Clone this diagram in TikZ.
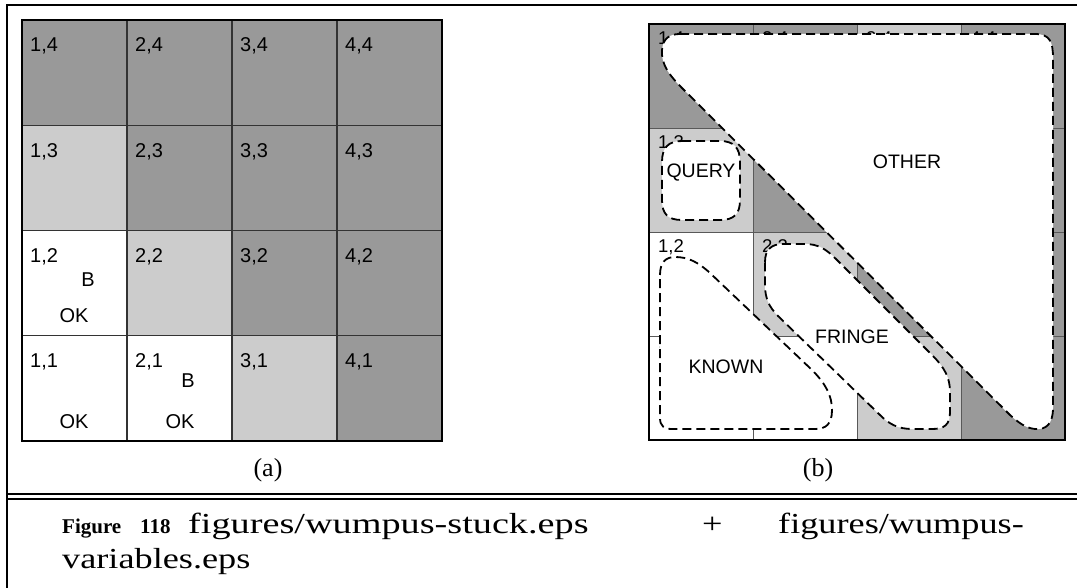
\documentclass[tikz,border=0pt]{standalone}
\usepackage{fontspec}
\setmainfont{Liberation Serif}
\newfontfamily\lsans{Liberation Sans}
\newfontfamily\capfont[FakeStretch=1.25]{Liberation Serif}
\newfontfamily\capbf{Liberation Serif Bold}
\definecolor{dk}{HTML}{999999}
\definecolor{lt}{HTML}{CCCCCC}
\tikzset{
  lab/.style={font=\lsans\fontsize{20}{20}\selectfont, inner sep=0pt, anchor=base west},
  labb/.style={font=\lsans\fontsize{18.5}{18.5}\selectfont, inner sep=0pt, anchor=base west},
  regshape/.style={draw=black, line width=1.8pt, dash pattern=on 9pt off 5pt, fill=white},
  regtxt/.style={font=\lsans\fontsize{19.5}{19.5}\selectfont, inner sep=0pt},
  gridA/.style={line width=1.3pt, draw=black!80},
  gridB/.style={line width=0.9pt, draw=black!65},
  gridborder/.style={line width=2.5pt, draw=black},
  frameline/.style={line width=2pt, draw=black},
  captxt/.style={font=\capfont\fontsize{29}{29}\selectfont, inner sep=0pt, anchor=base west},
  capbold/.style={font=\capbf\fontsize{21}{21}\selectfont, inner sep=0pt, anchor=base west},
  sub/.style={font=\fontsize{26}{26}\selectfont, inner sep=0pt, anchor=base},
}
\begin{document}
\begin{tikzpicture}[x=1pt,y=-1pt]
\useasboundingbox (0,0) rectangle (1077,588);
\fill[white] (0,0) rectangle (1077,588);
% ---------- outer frame ----------
\draw[frameline] (7,600) -- (7,5) -- (1080,5);
\draw[frameline] (7,494) -- (1080,494);
\draw[frameline] (7,498.5) -- (1080,498.5);
% ---------- (a) grid ----------
\foreach \i/\j/\clr in {1/4/dk,2/4/dk,3/4/dk,4/4/dk,
                       1/3/lt,2/3/dk,3/3/dk,4/3/dk,
                       1/2/white,2/2/lt,3/2/dk,4/2/dk,
                       1/1/white,2/1/white,3/1/lt,4/1/dk}
  \fill[\clr] ({22+105*(\i-1)},{20+105.25*(4-\j)}) rectangle ++(105,105.25);
\foreach \k in {1,2,3} {
  \draw[gridA] ({22+105*\k},20) -- ({22+105*\k},441);
  \draw[gridA] (22,{20+105.25*\k}) -- (442,{20+105.25*\k});
}
\draw[gridborder] (22,20) rectangle (442,441);
\foreach \i in {1,...,4} \foreach \j in {1,...,4}
  \node[lab] (a\i\j) at ({22+105*(\i-1)+8},{20+105.25*(4-\j)+32}) {\i,\j};
\node[lab,anchor=base] (aB12) at (88,287) {B};
\node[lab,anchor=base] (aOK12) at (74,323) {OK};
\node[lab,anchor=base] (aOK11) at (74,428) {OK};
\node[lab,anchor=base] (aB21) at (188,387) {B};
\node[lab,anchor=base] (aOK21) at (180,428) {OK};
% ---------- (b) grid ----------
\foreach \i/\j/\clr in {1/4/dk,2/4/dk,3/4/lt,4/4/dk,
                       1/3/lt,2/3/dk,3/3/dk,4/3/dk,
                       1/2/white,2/2/lt,3/2/dk,4/2/dk,
                       1/1/white,2/1/white,3/1/lt,4/1/dk}
  \fill[\clr] ({649+104*(\i-1)},{24+104*(4-\j)}) rectangle ++(104,104);
\foreach \k in {1,2,3} {
  \draw[gridB] ({649+104*\k},24) -- ({649+104*\k},440);
  \draw[gridB] (649,{24+104*\k}) -- (1065,{24+104*\k});
}
% labels that peek out from under the regions
\foreach \i/\j in {1/4,2/4,3/4,4/4,1/3,1/2,2/2,1/1}
  \node[labb] (b\i\j) at ({649+104*(\i-1)+9},{24+104*(4-\j)+21}) {\i,\j};
% regions
\draw[regshape] (680,34) -- (1035,34) .. controls (1050,34) and (1053,42) .. (1053,58)
  -- (1053,408) .. controls (1053,424) and (1046,430) .. (1035,429)
  .. controls (1025,428) and (1018,422) .. (1010,415)
  -- (682,88) .. controls (669,75) and (661,64) .. (662,50)
  .. controls (663,38) and (670,34) .. (680,34) -- cycle;
\draw[regshape] (682,141) -- (720,141) .. controls (734,141) and (740,148) .. (740,162)
  -- (740,200) .. controls (740,214) and (734,220) .. (720,220)
  -- (682,220) .. controls (668,220) and (662,214) .. (662,200)
  -- (662,162) .. controls (662,148) and (668,141) .. (682,141) -- cycle;
\draw[regshape] (660,275) .. controls (660,262) and (666,257) .. (675,257)
  .. controls (688,257) and (698,262) .. (710,273)
  -- (812,370) .. controls (826,384) and (832,396) .. (832,410)
  .. controls (832,424) and (826,429) .. (815,429)
  -- (672,429) .. controls (664,429) and (660,426) .. (660,418) -- cycle;
\draw[regshape] (765,262) .. controls (765,250) and (771,244) .. (783,244)
  -- (805,244) .. controls (818,244) and (826,249) .. (836,259)
  -- (932,355) .. controls (945,368) and (950,378) .. (950,392)
  -- (950,412) .. controls (950,425) and (944,429) .. (932,429)
  -- (912,429) .. controls (898,429) and (889,424) .. (880,415)
  -- (778,316) .. controls (769,307) and (765,298) .. (765,285) -- cycle;
\draw[gridborder, line width=2.2pt] (649,24) rectangle (1065,440);
\node[regtxt] (other) at (907,162) {OTHER};
\node[regtxt] (query) at (701,173) {QUERY};
\node[regtxt] (fringe) at (852,337) {FRINGE};
\node[regtxt] (known) at (726,367) {KNOWN};
% ---------- sub captions ----------
\node[sub] (suba) at (268,476) {(a)};
\node[sub] (subb) at (818,476) {(b)};
% ---------- caption ----------
\node[capbold] (figw) at (62,533) {Figure};
\node[capbold] (fign) at (140,533) {118};
\node[captxt] (cap1) at (188,533) {\scalebox{1.055}[1]{figures/wumpus-stuck.eps}};
\node[captxt] (capplus) at (702,533) {+};
\node[captxt] (cap2) at (778,533) {figures/wumpus-};
\node[captxt] (cap3) at (62,568) {variables.eps};
\end{tikzpicture}
\end{document}
